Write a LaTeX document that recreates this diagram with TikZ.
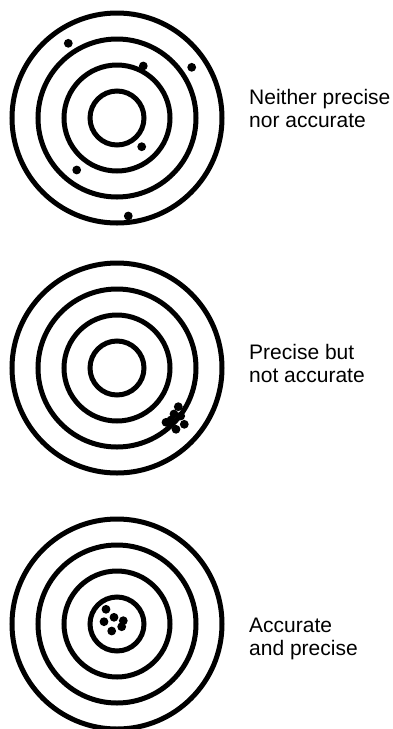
\documentclass[tikz,border=0pt]{standalone}
\usepackage{fontspec}
\setmainfont{Liberation Sans}
\begin{document}
\begin{tikzpicture}[x=1pt,y=-1pt,
  ring/.style={draw=black,line width=5pt},
  shot/.style={fill=black},
  caption/.style={anchor=base west,inner sep=0pt,align=left,font=\fontsize{21}{23}\selectfont}]
\useasboundingbox (0,0) rectangle (393,729);
% targets
\foreach \cy in {118,368,624}{
  \foreach \r in {27,53,79,105}{
    \draw[ring] (117,\cy) circle[radius=\r];
  }
}
% target 1 shots
\foreach \p in {(68.3,43.3),(143.3,66),(191.7,67.3),(141.7,146.7),(76.7,170),(128.3,216)}{
  \fill[shot] \p circle[radius=4.4];
}
% target 2 shots
\foreach \p in {(178.3,406.7),(174,414),(180.7,416),(166,422.3),(184.3,424.3),(176,429.3),(171,420)}{
  \fill[shot] \p circle[radius=4.4];
}
% target 3 shots
\foreach \p in {(106,609.3),(114,617.3),(104,621.7),(123.3,620.7),(121.7,626.7),(111.7,631)}{
  \fill[shot] \p circle[radius=4.4];
}
\node[caption] (c1) at (249,127) {Neither precise\\nor accurate};
\node[caption] (c2) at (249,382) {Precise but\\not accurate};
\node[caption] (c3) at (249,655) {Accurate\\and precise};
\end{tikzpicture}
\end{document}
